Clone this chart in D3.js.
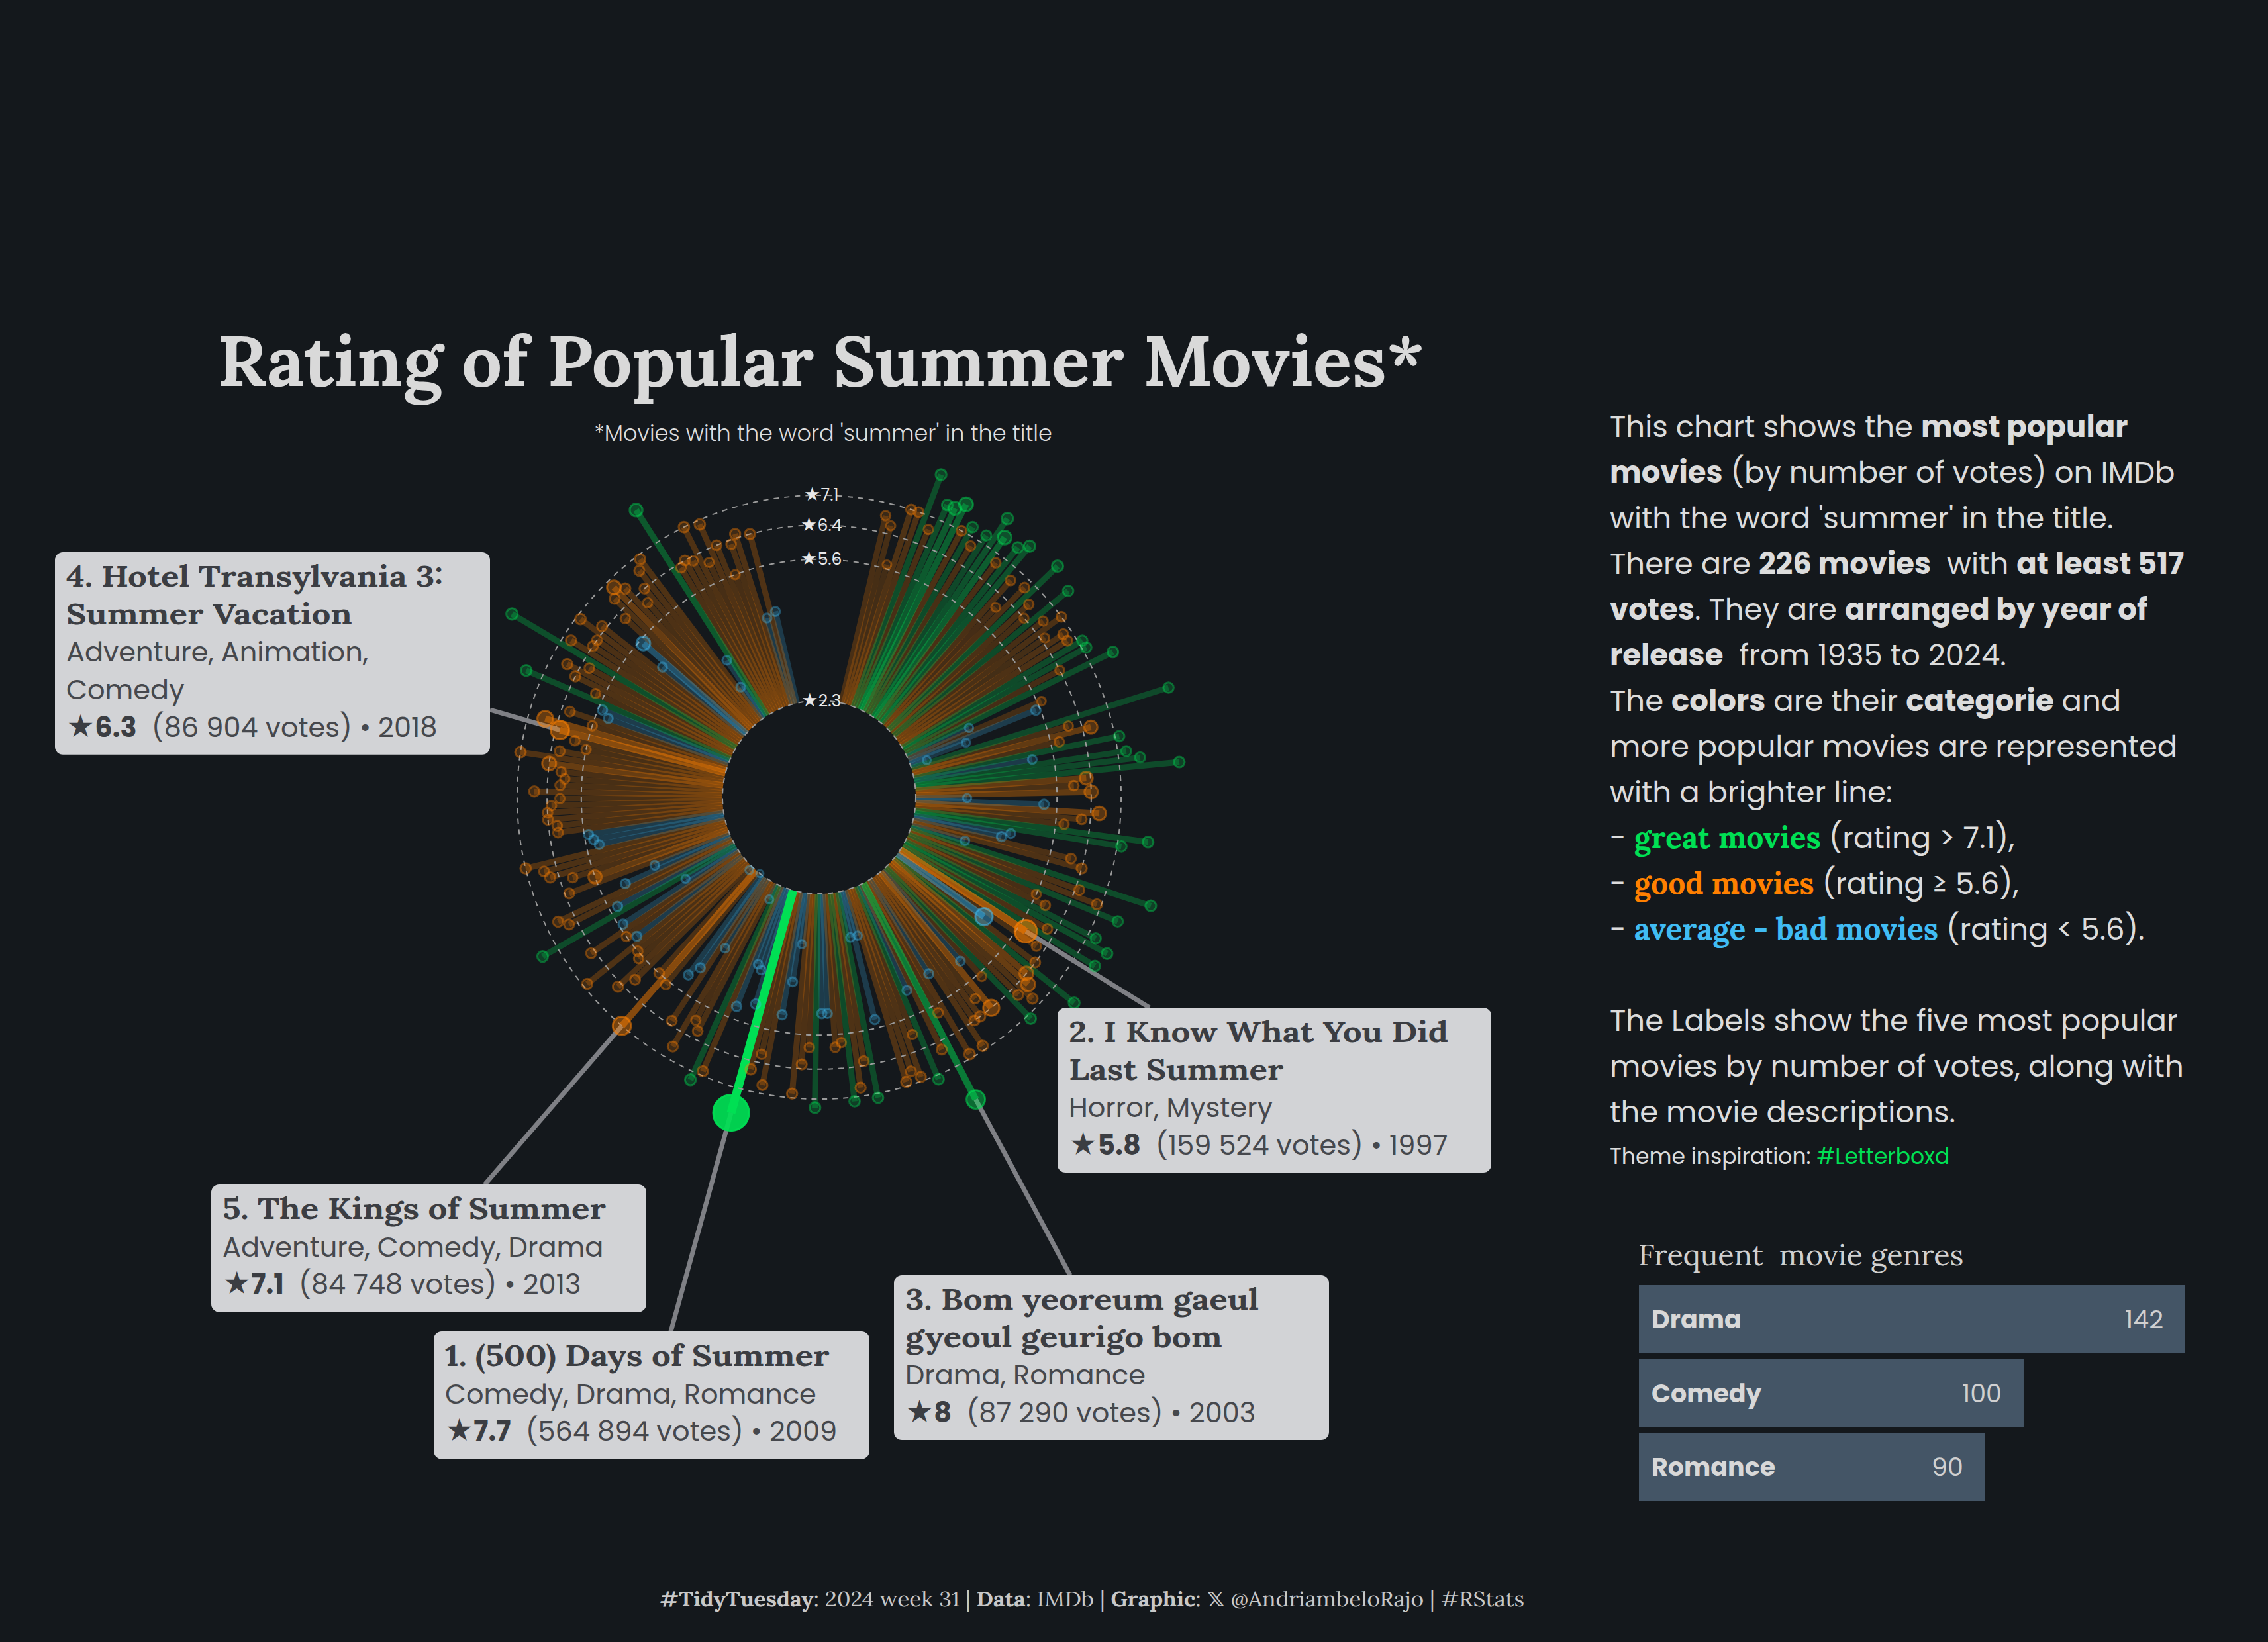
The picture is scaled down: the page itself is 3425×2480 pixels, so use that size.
<!DOCTYPE html>
<html>
<head>
<meta charset="utf-8">
<script src="https://cdn.jsdelivr.net/npm/d3@7"></script>
<style>
  body { margin: 0; background: #14181c; }
  text { white-space: pre; }
</style>
</head>
<body>
<div id="chart"></div>
<script>
var svgWidth = 3425;
var svgHeight = 2480;

// ratings of the 226 movies, ordered by year of release (1935 -> 2024)
var ratings = [
  6.8, 6.6, 5.7, 7.1, 7.1, 8.1, 6.8, 7.5, 7.5, 7.7,
  7.1, 7.3, 6.9, 7.3, 7.9, 7.5, 6.9, 7.5, 7.7, 6.8,
  6.1, 6.9, 7.8, 6.7, 6.4, 7.6, 6.7, 7.1, 6.5, 6.9,
  6.9, 7.2, 7.2, 6.4, 7.7, 3.9, 5.7, 5.5, 3.7, 2.7,
  8.6, 6.1, 6.6, 5.8, 7.2, 5.1, 7.3, 7.6, 8.5, 6.3,
  6.0, 6.4, 3.5, 5.3, 6.6, 6.2, 5.8, 7.8, 7.2, 4.6,
  4.4, 6.1, 6.4, 3.6, 8.2, 6.5, 7.0, 7.6, 5.6, 5.9,
  7.3, 7.7, 6.2, 7.6, 5.8, 6.2, 4.8, 6.4, 7.7, 6.4,
  6.6, 6.9, 6.6, 7.2, 5.7, 5.1, 6.4, 6.0, 6.4, 6.4,
  7.0, 4.9, 7.0, 5.8, 8.0, 6.6, 5.0, 7.2, 6.0, 7.0,
  6.8, 7.0, 3.4, 5.4, 3.4, 7.2, 6.3, 6.9, 7.2, 5.8,
  5.9, 5.1, 5.1, 7.3, 5.9, 6.3, 7.0, 3.5, 4.4, 5.2,
  6.9, 6.2, 6.6, 7.7, 5.1, 4.3, 4.2, 5.3, 7.0, 7.3,
  2.7, 6.2, 6.0, 6.8, 4.2, 6.3, 4.9, 5.2, 2.3, 5.7,
  7.1, 5.6, 2.4, 6.1, 6.5, 5.7, 5.6, 7.0, 5.4, 5.6,
  6.5, 5.5, 3.7, 7.5, 5.4, 6.6, 6.8, 5.0, 4.2, 6.3,
  5.6, 6.1, 6.6, 6.7, 7.1, 5.3, 5.4, 5.5, 6.2, 6.2,
  6.4, 6.4, 6.3, 6.1, 6.7, 6.1, 6.0, 6.1, 6.4, 7.1,
  6.2, 5.6, 5.9, 6.3, 6.7, 5.6, 6.2, 5.3, 5.5, 7.5,
  5.8, 6.4, 6.7, 6.2, 8.4, 6.9, 6.4, 6.4, 7.0, 6.5,
  4.8, 5.5, 6.2, 6.7, 6.9, 6.7, 6.1, 6.4, 6.8, 7.0,
  3.2, 3.9, 8.0, 6.3, 6.4, 6.3, 7.1, 6.1, 7.0, 6.4,
  5.6, 6.3, 6.5, 4.4, 6.4, 4.5
];

// number of votes, same order
var votes = [
  4200, 3100, 1900, 6400, 5200, 9800, 3600, 8700, 24000, 31000,
  5400, 7600, 3900, 6100, 13000, 29000, 4300, 8800, 12500, 4700,
  2600, 5100, 12000, 4400, 2900, 7900, 3300, 4800, 2500, 6200,
  5600, 6900, 7300, 2700, 9100, 1400, 2200, 3800, 1100, 900,
  6800, 3500, 24000, 4100, 7200, 2300, 5900, 6600, 8400, 23000,
  4600, 25000, 1300, 3700, 28000, 5300, 3900, 9600, 7100, 2800,
  3400, 4900, 6300, 1600, 8900, 5700, 6000, 7400, 3200, 4500,
  6700, 9300, 5000, 8100, 159524, 4000, 70000, 5500, 9900, 30000,
  32000, 6500, 5800, 8200, 3000, 2400, 55000, 3600, 6900, 5200,
  7700, 3100, 8500, 4200, 87290, 6100, 2600, 9000, 3800, 6400,
  5600, 7300, 1500, 3300, 1700, 8000, 5400, 6800, 7600, 3900,
  4700, 2900, 3400, 9400, 4100, 5900, 7000, 1200, 2800, 3600,
  6300, 4400, 7800, 564894, 3700, 2500, 2100, 4300, 6600, 9700,
  1000, 4800, 3500, 6200, 2000, 5100, 3200, 3000, 517, 4600,
  84748, 4900, 800, 5300, 7200, 3900, 4500, 6700, 3300, 4000,
  6000, 3100, 1300, 8600, 3800, 5700, 6400, 3400, 2200, 5800,
  25000, 4300, 6900, 5500, 7500, 2700, 3500, 2900, 5000, 4600,
  6100, 5200, 4400, 3700, 7100, 4800, 3900, 4200, 32000, 8300,
  5600, 3600, 4500, 86904, 50000, 4100, 5300, 2600, 3800, 9200,
  3400, 6500, 7000, 4700, 12000, 6800, 5100, 4900, 7400, 6200,
  2700, 30000, 4300, 6600, 30000, 7300, 3700, 5800, 6100, 7900,
  1800, 2300, 22000, 5000, 6300, 4400, 7700, 3500, 8100, 5500,
  3200, 4600, 6900, 2400, 7300, 2800
];

var ringTicks = [2.3, 5.6, 6.4, 7.1];

var categories = ["great", "good", "bad"];
var categoryColors = ["#00e054", "#ff8000", "#40bcf4"];

// five most popular movies
var topMovies = [
  { rank: 1, index: 123, title: ["1. (500) Days of Summer"], genres: ["Comedy, Drama, Romance"], rating: "7.7", votes: "564 894", year: 2009 },
  { rank: 2, index: 74, title: ["2. I Know What You Did", "Last Summer"], genres: ["Horror, Mystery"], rating: "5.8", votes: "159 524", year: 1997 },
  { rank: 3, index: 94, title: ["3. Bom yeoreum gaeul", "gyeoul geurigo bom"], genres: ["Drama, Romance"], rating: "8", votes: "87 290", year: 2003 },
  { rank: 4, index: 183, title: ["4. Hotel Transylvania 3:", "Summer Vacation"], genres: ["Adventure, Animation,", "Comedy"], rating: "6.3", votes: "86 904", year: 2018 },
  { rank: 5, index: 140, title: ["5. The Kings of Summer"], genres: ["Adventure, Comedy, Drama"], rating: "7.1", votes: "84 748", year: 2013 }
];

var genreNames = ["Drama", "Comedy", "Romance"];
var genreCounts = [142, 100, 90];

// label box placement (by rank)
var labelBoxes = {
  1: { x: 655, y: 2011, w: 658, ax: 1013, ay: 2011 },
  2: { x: 1597, y: 1522, w: 655, ax: 1736, ay: 1522 },
  3: { x: 1350, y: 1926, w: 657, ax: 1616, ay: 1926 },
  4: { x: 83, y: 834, w: 657, ax: 740, ay: 1072 },
  5: { x: 319, y: 1789, w: 657, ax: 732, ay: 1789 }
};

var SANS = "Poppins, Inter, 'Open Sans', sans-serif";
var SERIF = "Lora, 'DejaVu Serif', serif";
var TXT = "#dcdcdc";

var svg = d3.select("#chart")
  .append("svg")
  .attr("width", svgWidth)
  .attr("height", svgHeight);

svg.append("rect")
  .attr("width", svgWidth)
  .attr("height", svgHeight)
  .attr("fill", "#14181c");

// ---------- radial chart ----------
var cx = 1237, cy = 1204;

var movies = ratings.map(function(r, i) {
  return { i: i, rating: r, votes: votes[i] };
});

var angle = d3.scalePoint()
  .domain(d3.range(movies.length))
  .range([13.3 * Math.PI / 180, 346.75 * Math.PI / 180]);

var radius = d3.scaleLinear()
  .domain([2.3, 8.6])
  .range([146, 146 + 6.3 * 64.6]);

var voteScale = d3.scaleLinear()
  .domain(d3.extent(votes))
  .range([0, 1]);

function pop(v) { return Math.sqrt(voteScale(v)); }

var pointSize = d3.scaleLinear().domain([0, 1]).range([5.5, 27]);
var lineOpacity = d3.scaleLinear().domain([0, 1]).range([0.16, 1]);
var lineWidth = d3.scaleLinear().domain([0, 1]).range([8.5, 13]);

var color = d3.scaleOrdinal().domain(categories).range(categoryColors);

function category(r) {
  return r > 7.1 ? "great" : (r >= 5.6 ? "good" : "bad");
}

function px(i, r) { return cx + radius(r) * Math.sin(angle(i)); }
function py(i, r) { return cy - radius(r) * Math.cos(angle(i)); }

var chartGroup = svg.append("g");

var byVotes = movies.slice().sort(function(a, b) { return a.votes - b.votes; });

chartGroup.selectAll("line.seg")
  .data(byVotes)
  .enter()
  .append("line")
  .attr("class", "seg")
  .attr("x1", d => px(d.i, 2.3))
  .attr("y1", d => py(d.i, 2.3))
  .attr("x2", d => px(d.i, d.rating))
  .attr("y2", d => py(d.i, d.rating))
  .attr("stroke", d => color(category(d.rating)))
  .attr("stroke-opacity", d => lineOpacity(pop(d.votes)))
  .attr("stroke-width", d => lineWidth(pop(d.votes)));

chartGroup.selectAll("circle.ring")
  .data(ringTicks)
  .enter()
  .append("circle")
  .attr("class", "ring")
  .attr("cx", cx)
  .attr("cy", cy)
  .attr("r", d => radius(d))
  .attr("fill", "none")
  .attr("stroke", "#9a9a9a")
  .attr("stroke-width", 2)
  .attr("stroke-dasharray", "8 8");

// connectors to the labels
topMovies.forEach(function(m) {
  var b = labelBoxes[m.rank];
  var r = ratings[m.index];
  chartGroup.append("line")
    .attr("x1", px(m.index, r))
    .attr("y1", py(m.index, r))
    .attr("x2", b.ax)
    .attr("y2", b.ay)
    .attr("stroke", "#7f8085")
    .attr("stroke-width", 7);
});

chartGroup.selectAll("circle.pt")
  .data(byVotes)
  .enter()
  .append("circle")
  .attr("class", "pt")
  .attr("cx", d => px(d.i, d.rating))
  .attr("cy", d => py(d.i, d.rating))
  .attr("r", d => pointSize(pop(d.votes)))
  .attr("fill", d => color(category(d.rating)))
  .attr("fill-opacity", d => 0.1 + 0.82 * pop(d.votes))
  .attr("stroke", d => color(category(d.rating)))
  .attr("stroke-opacity", d => 0.32 + 0.6 * pop(d.votes))
  .attr("stroke-width", 3);

chartGroup.selectAll("text.tick")
  .data(ringTicks)
  .enter()
  .append("text")
  .attr("class", "tick")
  .attr("x", cx + 3)
  .attr("y", d => cy - radius(d))
  .attr("text-anchor", "middle")
  .attr("dominant-baseline", "central")
  .attr("font-family", SANS)
  .attr("font-size", 25)
  .attr("fill", "#e8e8e8")
  .text(d => "\u2605" + d);

// ---------- title ----------
svg.append("text")
  .attr("x", 1240)
  .attr("y", 583)
  .attr("text-anchor", "middle")
  .attr("font-family", SERIF)
  .attr("font-weight", 700)
  .attr("font-size", 106)
  .attr("fill", "#d9d9d9")
  .attr("textLength", 1823)
  .attr("lengthAdjust", "spacingAndGlyphs")
  .text("Rating of Popular Summer Movies*");

svg.append("text")
  .attr("x", 1243)
  .attr("y", 666)
  .attr("text-anchor", "middle")
  .attr("font-family", SANS)
  .attr("font-weight", 300)
  .attr("font-size", 33.5)
  .attr("fill", TXT)
  .text("*Movies with the word 'summer' in the title");

// ---------- label boxes ----------
topMovies.forEach(function(m) {
  var b = labelBoxes[m.rank];
  var nLines = m.title.length + m.genres.length + 1;
  var h = 52 + (nLines - 1) * 56.7 + 27;
  var g = svg.append("g");
  g.append("rect")
    .attr("x", b.x).attr("y", b.y)
    .attr("width", b.w).attr("height", h)
    .attr("rx", 12)
    .attr("fill", "#d2d3d6");
  var y = b.y + 52;
  m.title.forEach(function(t) {
    var tt = g.append("text")
      .attr("x", b.x + 17).attr("y", y)
      .attr("font-family", SERIF)
      .attr("font-weight", 700)
      .attr("font-size", 44)
      .attr("fill", "#3b3d42")
      .text(t);
    // widen to the reference's glyph width while keeping line boxes apart
    var w = tt.node().getComputedTextLength();
    tt.attr("textLength", w * 1.16).attr("lengthAdjust", "spacingAndGlyphs");
    y += 56.7;
  });
  m.genres.forEach(function(t) {
    g.append("text")
      .attr("x", b.x + 17).attr("y", y)
      .attr("font-family", SANS)
      .attr("font-size", 41.5)
      .attr("fill", "#46484d")
      .text(t);
    y += 56.7;
  });
  var st = g.append("text")
    .attr("x", b.x + 17).attr("y", y)
    .attr("font-family", SANS)
    .attr("font-size", 41.5)
    .attr("fill", "#46484d");
  st.append("tspan").attr("font-weight", 700).attr("fill", "#3b3d42").text("\u2605" + m.rating);
  st.append("tspan").text("  (" + m.votes + " votes) \u2022 " + m.year);
});

// ---------- description ----------
var descLines = [
  [["This chart shows the ", 0], ["most popular", 1]],
  [["movies", 1], [" (by number of votes) on IMDb", 0]],
  [["with the word 'summer' in the title.", 0]],
  [["There are ", 0], ["226 movies", 1], ["  with ", 0], ["at least 517", 1]],
  [["votes", 1], [". They are ", 0], ["arranged by year of", 1]],
  [["release", 1], ["  from 1935 to 2024.", 0]],
  [["The ", 0], ["colors", 1], [" are their ", 0], ["categorie", 1], [" and", 0]],
  [["more popular movies are represented", 0]],
  [["with a brighter line:", 0]],
  [["- ", 0], ["great movies", "great"], [" (rating > 7.1),", 0]],
  [["- ", 0], ["good movies", "good"], [" (rating \u2265 5.6),", 0]],
  [["- ", 0], ["average - bad movies", "bad"], [" (rating < 5.6).", 0]],
  [],
  [["The Labels show the five most popular", 0]],
  [["movies by number of votes, along with", 0]],
  [["the movie descriptions.", 0]]
];

var desc = svg.append("g");
descLines.forEach(function(line, k) {
  var t = desc.append("text")
    .attr("x", 2431)
    .attr("y", 660 + k * 69)
    .attr("font-family", SANS)
    .attr("font-size", 45)
    .attr("fill", TXT);
  line.forEach(function(seg) {
    var sp = t.append("tspan").text(seg[0]);
    if (seg[1] === 1) sp.attr("font-weight", 700);
    else if (typeof seg[1] === "string") {
      sp.attr("font-family", SERIF)
        .attr("font-weight", 700)
        .attr("font-size", 46)
        .attr("fill", color(seg[1]));
    }
  });
});

var theme = svg.append("text")
  .attr("x", 2431)
  .attr("y", 1758)
  .attr("font-family", SANS)
  .attr("font-size", 33)
  .attr("fill", TXT);
theme.append("tspan").text("Theme inspiration: ");
theme.append("tspan").attr("fill", "#00e054").text("#Letterboxd");

// ---------- genre bars ----------
var barX = d3.scaleLinear()
  .domain([0, d3.max(genreCounts)])
  .range([2475, 3300]);

var barY = d3.scaleBand()
  .domain(genreNames)
  .range([1941, 2267])
  .paddingInner(0.076);

svg.append("text")
  .attr("x", 2474)
  .attr("y", 1911)
  .attr("font-family", SERIF)
  .attr("font-size", 45)
  .attr("fill", "#d0d0d0")
  .text("Frequent  movie genres");

var bars = svg.selectAll("g.bar")
  .data(genreNames)
  .enter()
  .append("g")
  .attr("class", "bar");

bars.append("rect")
  .attr("x", barX(0))
  .attr("y", d => barY(d))
  .attr("width", (d, i) => barX(genreCounts[i]) - barX(0))
  .attr("height", barY.bandwidth())
  .attr("fill", "#445566");

bars.append("text")
  .attr("x", barX(0) + 19)
  .attr("y", d => barY(d) + barY.bandwidth() / 2)
  .attr("dominant-baseline", "central")
  .attr("font-family", SANS)
  .attr("font-weight", 700)
  .attr("font-size", 38)
  .attr("fill", "#d8d8d8")
  .text(d => d);

bars.append("text")
  .attr("x", (d, i) => barX(genreCounts[i]) - 33)
  .attr("y", d => barY(d) + barY.bandwidth() / 2)
  .attr("dominant-baseline", "central")
  .attr("text-anchor", "end")
  .attr("font-family", SANS)
  .attr("font-size", 38)
  .attr("fill", "#d0d0d0")
  .text((d, i) => genreCounts[i]);

// ---------- caption ----------
var cap = svg.append("text")
  .attr("x", 1649)
  .attr("y", 2426)
  .attr("text-anchor", "middle")
  .attr("font-family", SERIF)
  .attr("font-size", 31)
  .attr("fill", "#c8c8c8");
cap.append("tspan").attr("font-weight", 700).text("#TidyTuesday");
cap.append("tspan").text(": 2024 week 31 | ");
cap.append("tspan").attr("font-weight", 700).text("Data");
cap.append("tspan").text(": IMDb | ");
cap.append("tspan").attr("font-weight", 700).text("Graphic");
cap.append("tspan").text(": ");
cap.append("tspan").attr("font-family", "'DejaVu Sans', sans-serif").attr("font-weight", 700).text("\uD835\uDD4F");
cap.append("tspan").text(" @AndriambeloRajo | #RStats");
cap.attr("textLength", 1306).attr("lengthAdjust", "spacingAndGlyphs");
</script>
</body>
</html>
